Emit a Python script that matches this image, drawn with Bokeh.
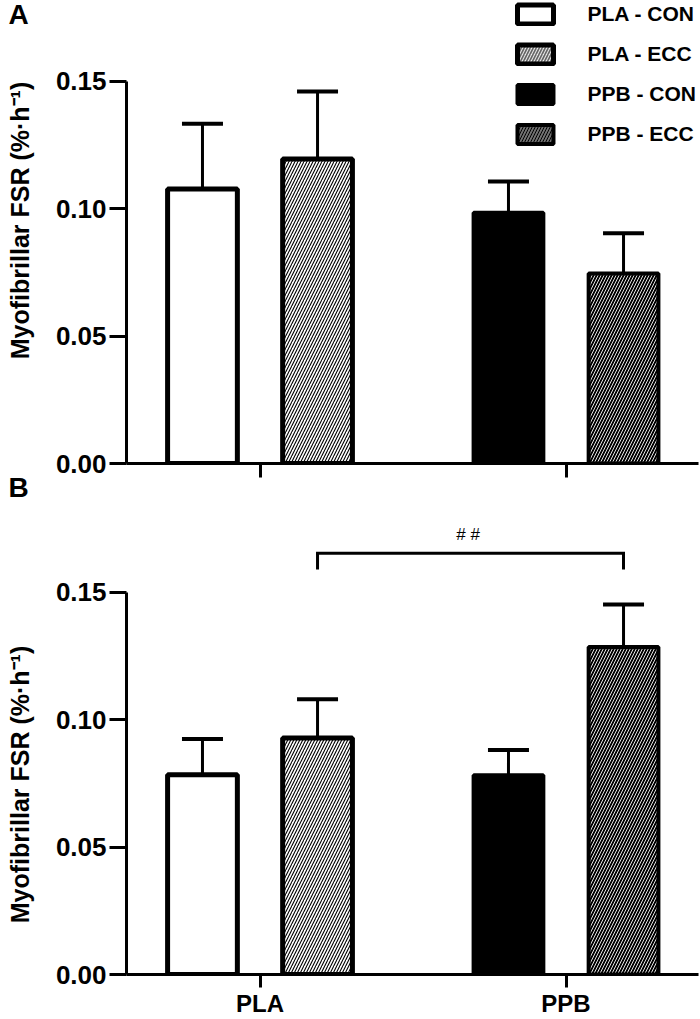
import math
from bokeh.plotting import figure
from bokeh.layouts import column, row
from bokeh.models import (ColumnDataSource, Whisker, TeeHead, FixedTicker,
                          Legend, LegendItem, NumeralTickFormatter, Range1d)
from bokeh.embed import file_html
from bokeh.resources import INLINE
from bokeh.core.properties import value

# ---------------- data ----------------
groups = ["PLA", "PPB"]
conditions = ["CON", "ECC"]
legend_labels = ["PLA - CON", "PLA - ECC", "PPB - CON", "PPB - ECC"]

a_mean = [0.1078, 0.1196, 0.0985, 0.0746]
a_sem = [0.0256, 0.0265, 0.0122, 0.0158]

b_mean = [0.0784, 0.0928, 0.0782, 0.1285]
b_sem = [0.0140, 0.0152, 0.0099, 0.0167]

y_ticks = [0.00, 0.05, 0.10, 0.15]
sig_label = "#  #"
sig_pair = [1, 3]
sig_level = 0.1653

panel_letters = ["A", "B"]
y_label = "Myofibrillar FSR (%·h⁻¹)"

# ---------------- styles ----------------
FONT = "Liberation Sans"
OFFSET = 0.188
BAR_W = 0.228
X_START, X_END = 0.5637, 2.433
DROP = 0.0063
LEFT_W = 40

bar_styles = [
    dict(fill_color="white", line_color="black", line_width=5),
    dict(fill_color="white", line_color="black", line_width=5,
         hatch_pattern="/", hatch_color="black", hatch_scale=6, hatch_weight=1.1),
    dict(fill_color="black", line_color="black", line_width=4),
    dict(fill_color="black", line_color="black", line_width=4,
         hatch_pattern="/", hatch_color="white", hatch_scale=6, hatch_weight=0.9),
]

positions = [gi + 1 + (-OFFSET if c == "CON" else OFFSET)
             for gi, _ in enumerate(groups) for c in conditions]


def make_panel(means, sems, height, top_border, bottom_border, y_end,
               show_xlabels, tick_out_x):
    p = figure(width=700 - LEFT_W, height=height, output_backend="svg",
               toolbar_location=None, x_range=Range1d(X_START, X_END),
               y_range=Range1d(0, y_end), min_border_left=126 - LEFT_W,
               min_border_right=2, min_border_top=top_border,
               min_border_bottom=bottom_border)
    p.outline_line_color = None
    p.grid.visible = False
    p.background_fill_color = "white"

    renderers = []
    for i, (x, m) in enumerate(zip(positions, means)):
        src = ColumnDataSource(dict(x=[x], top=[m]))
        r = p.vbar(x="x", top="top", bottom=0, width=BAR_W, source=src,
                   **bar_styles[i])
        renderers.append(r)

    wsrc = ColumnDataSource(dict(base=positions, lower=means,
                                 upper=[m + s for m, s in zip(means, sems)]))
    w = Whisker(base="base", lower="lower", upper="upper", source=wsrc,
                dimension="height", line_width=3, line_color="black",
                upper_head=TeeHead(size=41, line_width=4, line_color="black"),
                lower_head=None)
    p.add_layout(w)

    yax = p.yaxis[0]
    yax.ticker = FixedTicker(ticks=y_ticks)
    yax.formatter = NumeralTickFormatter(format="0.00")
    yax.bounds = (0, 0.15)
    yax.axis_line_width = 3
    yax.major_tick_line_width = 3
    yax.major_tick_out = 17
    yax.major_tick_in = 0
    yax.minor_tick_line_color = None
    yax.major_label_standoff = 3
    yax.major_label_text_font = FONT
    yax.major_label_text_font_style = "bold"
    yax.major_label_text_font_size = "26px"
    yax.major_label_text_color = "black"

    xax = p.xaxis[0]
    xax.ticker = FixedTicker(ticks=[1, 2])
    xax.axis_line_width = 3
    xax.major_tick_line_width = 3
    xax.major_tick_out = tick_out_x
    xax.major_tick_in = 0
    xax.minor_tick_line_color = None
    xax.major_label_text_font = FONT
    xax.major_label_text_font_style = "bold"
    xax.major_label_text_color = "black"
    if show_xlabels:
        xax.major_label_overrides = {1: groups[0], 2: groups[1]}
        xax.major_label_text_font_size = "24px"
        xax.major_label_standoff = 2
    else:
        xax.major_label_overrides = {1: "", 2: ""}
        xax.major_label_text_font_size = "0px"
        xax.major_label_standoff = 0
    return p, renderers


# ---------------- panel A ----------------
pa, ra = make_panel(a_mean, a_sem, height=480, top_border=0, bottom_border=17,
                    y_end=463 / 2546.7, show_xlabels=False, tick_out_x=14)

legend = Legend(items=[LegendItem(label=lab, renderers=[r])
                       for lab, r in zip(legend_labels, ra)],
                location="top_right", glyph_width=45, glyph_height=24,
                label_height=24, label_width=108, spacing=16, label_standoff=30,
                padding=0, margin=2, border_line_color=None,
                background_fill_alpha=0, label_text_font=FONT,
                label_text_font_style="bold", label_text_font_size="21px",
                label_text_color="black")
pa.add_layout(legend)

# ---------------- panel B ----------------
pb, rb = make_panel(b_mean, b_sem, height=539, top_border=25, bottom_border=44,
                    y_end=470 / 2553.3, show_xlabels=True, tick_out_x=13)

x1, x2 = positions[sig_pair[0]], positions[sig_pair[1]]
pb.line(x=[x1, x1, x2, x2],
        y=[sig_level - DROP, sig_level, sig_level, sig_level - DROP],
        line_width=3, line_color="black", line_join="miter")
pb.text(x=[(x1 + x2) / 2], y=[sig_level], text=[sig_label],
        text_align="center", text_baseline="bottom", y_offset=-9,
        text_font=value(FONT), text_font_size="17px", text_color="black")

# ---------------- left strip: panel letters and y-axis titles ----------------
left = figure(width=LEFT_W, height=1019, output_backend="svg",
              toolbar_location=None, x_range=Range1d(0, LEFT_W),
              y_range=Range1d(1019, 0), x_axis_type=None, y_axis_type=None,
              min_border=0)
left.outline_line_color = None
left.grid.visible = False
left.text(x=[8, 8], y=[14, 487], text=panel_letters, text_align="left",
          text_baseline="alphabetic", text_font=value(FONT),
          text_font_style="bold", text_font_size="28px", text_color="black")
left.text(x=[19, 19], y=[220, 784], text=[y_label, y_label], angle=math.pi / 2,
          text_align="center", text_baseline="middle", text_font=value(FONT),
          text_font_style="bold", text_font_size="25px", text_color="black")

layout = row(left, column(pa, pb))
open("out.html", "w").write(file_html(layout, INLINE))
